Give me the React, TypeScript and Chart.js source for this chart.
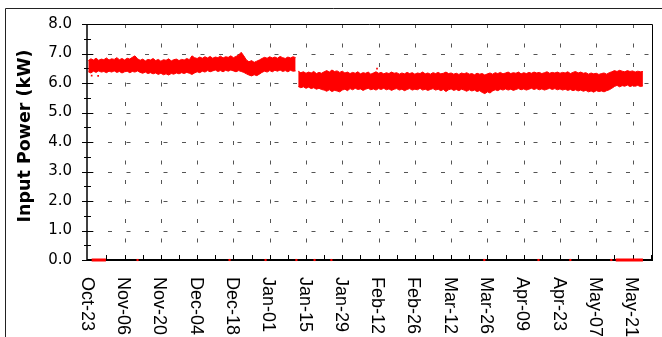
import React, { useEffect, useRef } from 'react';
import { Chart, registerables } from 'chart.js';

Chart.register(...registerables);

// ---- data (days counted from Oct-23) ----
const xTickLabels = ['Oct-23', 'Nov-06', 'Nov-20', 'Dec-04', 'Dec-18', 'Jan-01', 'Jan-15', 'Jan-29', 'Feb-12', 'Feb-26', 'Mar-12', 'Mar-26', 'Apr-09', 'Apr-23', 'May-07', 'May-21'];
const TICK_STEP_DAYS = 14;
const MINOR_STEP_DAYS = 7;
const X_MIN = -0.5;
const X_MAX = 217.5;
const Y_MIN = 0;
const Y_MAX = 8;
const yTitle = 'Input Power (kW)';

// Period 1 (before the drop): daily band envelope (kW), days 0..80
const seg1StartDay = 0;
const seg1Upper = [
  6.76, 6.82, 6.78, 6.84, 6.77, 6.81, 6.79, 6.85, 6.78, 6.82,
  6.80, 6.86, 6.79, 6.83, 6.78, 6.84, 6.81, 6.87, 6.92, 6.82,
  6.77, 6.81, 6.75, 6.80, 6.78, 6.83, 6.76, 6.80, 6.74, 6.79,
  6.77, 6.82, 6.75, 6.79, 6.81, 6.76, 6.80, 6.78, 6.83, 6.79,
  6.92, 6.86, 6.83, 6.88, 6.84, 6.89, 6.85, 6.90, 6.84, 6.88,
  6.86, 6.91, 6.85, 6.89, 6.87, 6.92, 6.86, 6.90, 6.95, 7.04,
  6.92, 6.78, 6.72, 6.76, 6.70, 6.74, 6.78, 6.83, 6.87, 6.84,
  6.89, 6.85, 6.88, 6.84, 6.90, 6.86, 6.83, 6.88, 6.85, 6.89, 6.86,
];
const seg1Lower = [
  6.38, 6.34, 6.40, 6.36, 6.41, 6.37, 6.39, 6.35, 6.40, 6.37,
  6.41, 6.36, 6.39, 6.34, 6.38, 6.40, 6.35, 6.39, 6.37, 6.41,
  6.36, 6.33, 6.37, 6.32, 6.35, 6.31, 6.34, 6.29, 6.33, 6.28,
  6.31, 6.27, 6.32, 6.30, 6.34, 6.31, 6.35, 6.32, 6.36, 6.33,
  6.29, 6.34, 6.38, 6.35, 6.40, 6.37, 6.42, 6.38, 6.41, 6.44,
  6.39, 6.42, 6.38, 6.43, 6.40, 6.44, 6.41, 6.38, 6.42, 6.39,
  6.36, 6.31, 6.27, 6.24, 6.28, 6.25, 6.30, 6.36, 6.40, 6.37,
  6.42, 6.38, 6.43, 6.40, 6.44, 6.39, 6.42, 6.38, 6.43, 6.40, 6.41,
];

// Period 2 (after the drop): daily band envelope (kW), days 81..214
const seg2StartDay = 81;
const seg2Upper = [
  6.40, 6.35, 6.38, 6.33, 6.37, 6.34, 6.39, 6.32, 6.36, 6.33,
  6.38, 6.42, 6.37, 6.44, 6.39, 6.41, 6.36, 6.40, 6.34, 6.37,
  6.32, 6.36, 6.33, 6.38, 6.31, 6.35, 6.33, 6.37, 6.30, 6.34,
  6.38, 6.33, 6.36, 6.31, 6.35, 6.32, 6.37, 6.33, 6.35, 6.30,
  6.34, 6.31, 6.36, 6.32, 6.35, 6.30, 6.34, 6.32, 6.37, 6.31,
  6.34, 6.30, 6.35, 6.32, 6.36, 6.31, 6.33, 6.37, 6.32, 6.34,
  6.30, 6.33, 6.29, 6.34, 6.31, 6.35, 6.30, 6.32, 6.28, 6.33,
  6.30, 6.32, 6.27, 6.31, 6.34, 6.30, 6.35, 6.32, 6.36, 6.31,
  6.34, 6.37, 6.32, 6.35, 6.33, 6.37, 6.31, 6.35, 6.32, 6.36,
  6.33, 6.37, 6.34, 6.36, 6.32, 6.35, 6.38, 6.33, 6.36, 6.34,
  6.37, 6.33, 6.36, 6.34, 6.38, 6.32, 6.36, 6.39, 6.34, 6.37,
  6.33, 6.35, 6.30, 6.34, 6.31, 6.33, 6.29, 6.32, 6.34, 6.30,
  6.35, 6.38, 6.42, 6.39, 6.43, 6.40, 6.38, 6.42, 6.39, 6.41,
  6.37, 6.40, 6.38, 6.39,
];
const seg2Lower = [
  5.88, 5.84, 5.87, 5.82, 5.86, 5.81, 5.84, 5.79, 5.82, 5.78,
  5.76, 5.72, 5.77, 5.71, 5.75, 5.73, 5.70, 5.76, 5.79, 5.74,
  5.81, 5.77, 5.82, 5.78, 5.80, 5.75, 5.79, 5.82, 5.77, 5.80,
  5.76, 5.81, 5.78, 5.82, 5.77, 5.80, 5.75, 5.79, 5.81, 5.76,
  5.79, 5.74, 5.78, 5.81, 5.76, 5.79, 5.77, 5.82, 5.76, 5.79,
  5.75, 5.78, 5.81, 5.76, 5.79, 5.74, 5.78, 5.71, 5.77, 5.80,
  5.75, 5.78, 5.74, 5.79, 5.76, 5.72, 5.77, 5.73, 5.76, 5.71,
  5.74, 5.68, 5.64, 5.70, 5.66, 5.73, 5.77, 5.74, 5.79, 5.76,
  5.80, 5.76, 5.79, 5.75, 5.78, 5.81, 5.77, 5.80, 5.76, 5.79,
  5.82, 5.78, 5.81, 5.77, 5.80, 5.76, 5.79, 5.82, 5.78, 5.81,
  5.77, 5.80, 5.76, 5.79, 5.75, 5.78, 5.74, 5.77, 5.73, 5.76,
  5.72, 5.75, 5.70, 5.73, 5.69, 5.74, 5.71, 5.73, 5.70, 5.74,
  5.77, 5.82, 5.88, 5.92, 5.87, 5.91, 5.89, 5.93, 5.88, 5.91,
  5.89, 5.92, 5.88, 5.90,
];

// Periods when the unit read zero
const zeroRunStartDays = [1.3, 203.5];
const zeroRunEndDays = [6.8, 214];
const zeroDotDays = [19, 54.5, 68.4, 80.3, 87.3, 93.8, 152.8, 173.7, 186, 201.8];
const outlierDays = [1.3, 3.8, 111.4];
const outlierValues = [6.25, 6.24, 6.49];

const RED = '#ff0000';

function toPoints(start: number, values: number[]) {
  return values.map((v, i) => ({ x: start + i, y: v }));
}

const framePlugin = {
  id: 'framePlugin',
  beforeDatasetsDraw(chart: any) {
    const { ctx, chartArea } = chart;
    const xs = chart.scales.x;
    const ys = chart.scales.y;
    const { left, right, top, bottom } = chartArea;
    ctx.save();
    ctx.strokeStyle = '#555';
    ctx.lineWidth = 1;
    ctx.setLineDash([4, 14.5]);
    for (let v = Y_MIN + 1; v < Y_MAX; v++) {
      const y = Math.round(ys.getPixelForValue(v)) + 0.5;
      ctx.lineDashOffset = -2.5;
      ctx.beginPath();
      ctx.moveTo(left, y);
      ctx.lineTo(right, y);
      ctx.stroke();
    }
    ctx.setLineDash([4, 15.5]);
    for (let i = 1; i < xTickLabels.length; i++) {
      const x = Math.round(xs.getPixelForValue(i * TICK_STEP_DAYS)) + 0.5;
      ctx.lineDashOffset = 0;
      ctx.beginPath();
      ctx.moveTo(x, top);
      ctx.lineTo(x, bottom);
      ctx.stroke();
    }
    ctx.setLineDash([]);
    ctx.strokeStyle = '#000';
    ctx.lineWidth = 1;
    ctx.beginPath();
    ctx.moveTo(left, top + 0.5);
    ctx.lineTo(right + 0.5, top + 0.5);
    ctx.lineTo(right + 0.5, bottom);
    ctx.stroke();
    ctx.lineWidth = 1.5;
    ctx.beginPath();
    ctx.moveTo(left, top);
    ctx.lineTo(left, bottom);
    ctx.stroke();
    ctx.lineWidth = 2;
    ctx.beginPath();
    ctx.moveTo(left, bottom);
    ctx.lineTo(right + 1, bottom);
    ctx.stroke();
    ctx.lineWidth = 1;
    for (let v = Y_MIN; v <= Y_MAX; v += 0.5) {
      const y = Math.round(ys.getPixelForValue(v)) + 0.5;
      const major = Number.isInteger(v);
      ctx.beginPath();
      ctx.moveTo(left - (major ? 5 : 3), y);
      ctx.lineTo(left + (major ? 6 : 4), y);
      ctx.stroke();
    }
    for (let d = MINOR_STEP_DAYS; d < X_MAX; d += MINOR_STEP_DAYS) {
      const x = Math.round(xs.getPixelForValue(d)) + 0.5;
      ctx.beginPath();
      ctx.moveTo(x, bottom);
      ctx.lineTo(x, bottom - 5);
      ctx.stroke();
    }
    ctx.restore();
  },
  afterDraw(chart: any) {
    const { ctx, chartArea } = chart;
    const xs = chart.scales.x;
    ctx.save();
    ctx.fillStyle = '#000';
    const lblSize = 18;
    ctx.font = `${lblSize}px "Liberation Sans", Arial, sans-serif`;
    ctx.textAlign = 'left';
    ctx.textBaseline = 'alphabetic';
    const capH = lblSize * 0.716;
    xTickLabels.forEach((lab, i) => {
      const x = xs.getPixelForValue(i * TICK_STEP_DAYS);
      ctx.save();
      ctx.translate(x, chartArea.bottom + 17);
      ctx.rotate(Math.PI / 2);
      ctx.fillText(lab, 0, capH / 2);
      ctx.restore();
    });
    ctx.font = 'bold 17.5px "DejaVu Sans"';
    ctx.textAlign = 'center';
    ctx.textBaseline = 'middle';
    ctx.save();
    ctx.translate(25, 136);
    ctx.rotate(-Math.PI / 2);
    ctx.fillText(yTitle, 0, 0);
    ctx.restore();
    ctx.strokeStyle = '#222';
    ctx.lineWidth = 1;
    ctx.beginPath();
    ctx.moveTo(5.5, chart.height);
    ctx.lineTo(5.5, 8.5);
    ctx.lineTo(chart.width, 8.5);
    ctx.stroke();
    ctx.restore();
  },
};

export default function App() {
  const ref = useRef<HTMLCanvasElement | null>(null);
  useEffect(() => {
    document.body.style.margin = '0';
    const canvas = ref.current;
    if (!canvas) return;
    const bandStyle = {
      borderColor: RED,
      backgroundColor: RED,
      borderWidth: 1,
      pointRadius: 0,
      tension: 0,
    };
    const zeroRuns: any[] = [];
    zeroRunStartDays.forEach((s, i) => {
      zeroRuns.push({ x: s, y: 0 }, { x: zeroRunEndDays[i], y: 0 }, { x: zeroRunEndDays[i] + 0.1, y: null });
    });
    const chart = new Chart(canvas, {
      type: 'line',
      data: {
        datasets: [
          { ...bandStyle, data: toPoints(seg1StartDay, seg1Upper), fill: false },
          { ...bandStyle, data: toPoints(seg1StartDay, seg1Lower), fill: '-1' },
          { ...bandStyle, data: toPoints(seg2StartDay, seg2Upper), fill: false },
          { ...bandStyle, data: toPoints(seg2StartDay, seg2Lower), fill: '-1' },
          { data: zeroRuns, borderColor: RED, borderWidth: 3, pointRadius: 0, fill: false, clip: false, spanGaps: false },
          { data: zeroDotDays.map((d) => ({ x: d, y: 0 })), showLine: false, pointStyle: 'rect', pointRadius: 1.5, pointBorderWidth: 0, pointBackgroundColor: RED, borderColor: RED, clip: false },
          { data: outlierDays.map((d, i) => ({ x: d, y: outlierValues[i] })), showLine: false, pointStyle: 'rect', pointRadius: 1.2, pointBorderWidth: 0, pointBackgroundColor: RED, borderColor: RED },
        ] as any,
      },
      options: {
        animation: false,
        responsive: false,
        devicePixelRatio: 1,
        layout: { padding: { left: 0, right: 10, top: 23, bottom: 0 } },
        plugins: { legend: { display: false }, tooltip: { enabled: false }, title: { display: false } },
        scales: {
          x: {
            type: 'linear',
            min: X_MIN,
            max: X_MAX,
            ticks: { display: false },
            grid: { display: false, drawTicks: false },
            border: { display: false },
            afterFit: (s: any) => { s.height = 77; },
          },
          y: {
            min: Y_MIN,
            max: Y_MAX,
            ticks: {
              stepSize: 1,
              padding: 15,
              color: '#000',
              font: { family: '"DejaVu Sans"', size: 15 },
              callback: (v: any) => Number(v).toFixed(1),
            },
            grid: { display: false, drawTicks: false },
            border: { display: false },
            afterFit: (s: any) => { s.width = 87; },
          },
        },
      } as any,
      plugins: [framePlugin],
    });
    return () => chart.destroy();
  }, []);
  return <canvas ref={ref} width={662} height={337} style={{ display: 'block' }} />;
}
